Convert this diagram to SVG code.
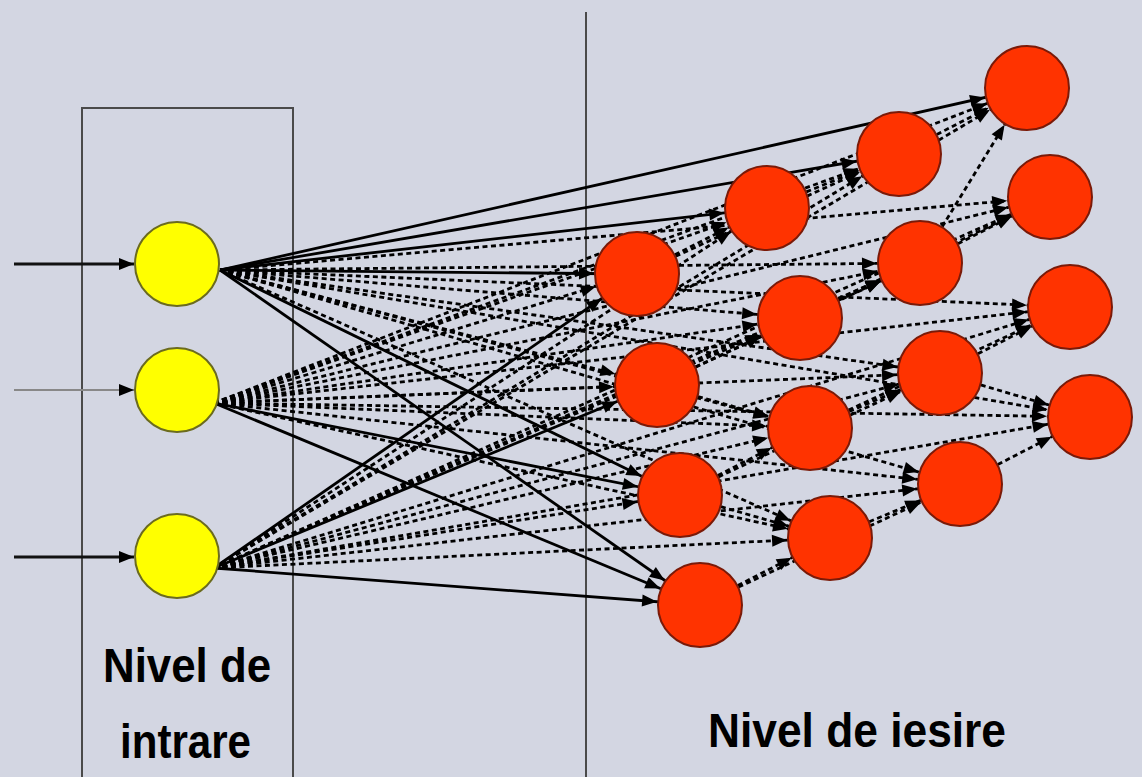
<svg xmlns="http://www.w3.org/2000/svg" width="1142" height="777" viewBox="0 0 1142 777">
<style>
.bg{fill:#d3d6e2}
.frame{fill:none;stroke:#4a4a4a;stroke-width:2}
.c line{stroke:#000;stroke-width:2.8;marker-end:url(#a)}
.c line.d{stroke-dasharray:5 3.5}
.in line{stroke-width:3;marker-end:url(#b)}
.y{fill:#ffff00;stroke:#6b6b1e;stroke-width:2}
.r{fill:#ff3300;stroke:#7a1a08;stroke-width:2}
.t{font-family:"Liberation Sans",Arial,sans-serif;font-weight:bold;font-size:48px;fill:#000}
</style>
<defs>
<marker id="a" markerUnits="userSpaceOnUse" markerWidth="15" markerHeight="12" viewBox="0 0 15 12" refX="58" refY="6" orient="auto" overflow="visible"><path d="M0,0 L15,6 L0,12 z" fill="#000"/></marker>
<marker id="b" markerUnits="userSpaceOnUse" markerWidth="15" markerHeight="12" viewBox="0 0 15 12" refX="15" refY="6" orient="auto" overflow="visible"><path d="M0,0 L15,6 L0,12 z" fill="#000"/></marker>
</defs>
<rect class="bg" x="0" y="0" width="1142" height="777"/>
<g id="frames">
<rect class="frame" x="82" y="108" width="211" height="700"/>
<line x1="586" y1="12" x2="586" y2="777" stroke="#4a4a4a" stroke-width="2"/>
</g>
<g class="in" id="inputs">
<line x1="14" y1="264" x2="134" y2="264" stroke="#111"/>
<line x1="14" y1="390" x2="134" y2="390" stroke="#888" style="stroke-width:2"/>
<line x1="14" y1="557" x2="134" y2="557" stroke="#111"/>
</g>
<g class="c" id="connectors">
<!-- Y1 -->
<line x1="220" y1="270" x2="1027" y2="88"/>
<line x1="220" y1="270" x2="899" y2="154"/>
<line x1="220" y1="270" x2="767" y2="208"/>
<line x1="220" y1="270" x2="637" y2="274"/>
<line x1="220" y1="270" x2="680" y2="495"/>
<line x1="220" y1="270" x2="700" y2="605"/>
<line class="d" x1="220" y1="270" x2="657" y2="385"/>
<line class="d" x1="220" y1="270" x2="800" y2="318"/>
<line class="d" x1="220" y1="270" x2="810" y2="428"/>
<line class="d" x1="220" y1="270" x2="830" y2="538"/>
<line class="d" x1="220" y1="270" x2="920" y2="263"/>
<line class="d" x1="220" y1="270" x2="940" y2="373"/>
<line class="d" x1="220" y1="270" x2="960" y2="484"/>
<line class="d" x1="220" y1="270" x2="1050" y2="197"/>
<line class="d" x1="220" y1="270" x2="1070" y2="307"/>
<line class="d" x1="220" y1="270" x2="1090" y2="417"/>
<!-- Y2 -->
<line x1="214" y1="403" x2="680" y2="495"/>
<line x1="214" y1="403" x2="700" y2="605"/>
<line class="d" x1="214" y1="403" x2="637" y2="274"/>
<line class="d" x1="214" y1="403" x2="657" y2="385"/>
<line class="d" x1="214" y1="403" x2="767" y2="208"/>
<line class="d" x1="214" y1="403" x2="800" y2="318"/>
<line class="d" x1="214" y1="403" x2="810" y2="428"/>
<line class="d" x1="214" y1="403" x2="830" y2="538"/>
<line class="d" x1="214" y1="403" x2="899" y2="154"/>
<line class="d" x1="214" y1="403" x2="920" y2="263"/>
<line class="d" x1="214" y1="403" x2="940" y2="373"/>
<line class="d" x1="214" y1="403" x2="960" y2="484"/>
<line class="d" x1="214" y1="403" x2="1027" y2="88"/>
<line class="d" x1="214" y1="403" x2="1050" y2="197"/>
<line class="d" x1="214" y1="403" x2="1070" y2="307"/>
<line class="d" x1="214" y1="403" x2="1090" y2="417"/>
<!-- Y3 -->
<line x1="214" y1="568" x2="637" y2="274"/>
<line x1="214" y1="568" x2="657" y2="385"/>
<line x1="214" y1="568" x2="700" y2="605"/>
<line class="d" x1="214" y1="568" x2="680" y2="495"/>
<line class="d" x1="214" y1="568" x2="767" y2="208"/>
<line class="d" x1="214" y1="568" x2="800" y2="318"/>
<line class="d" x1="214" y1="568" x2="810" y2="428"/>
<line class="d" x1="214" y1="568" x2="830" y2="538"/>
<line class="d" x1="214" y1="568" x2="899" y2="154"/>
<line class="d" x1="214" y1="568" x2="920" y2="263"/>
<line class="d" x1="214" y1="568" x2="940" y2="373"/>
<line class="d" x1="214" y1="568" x2="960" y2="484"/>
<line class="d" x1="214" y1="568" x2="1027" y2="88"/>
<line class="d" x1="214" y1="568" x2="1050" y2="197"/>
<line class="d" x1="214" y1="568" x2="1070" y2="307"/>
<line class="d" x1="214" y1="568" x2="1090" y2="417"/>
<!-- lateral -->
<line class="d" x1="637" y1="274" x2="767" y2="208"/>
<line class="d" x1="767" y1="208" x2="899" y2="154"/>
<line class="d" x1="899" y1="154" x2="1027" y2="88"/>
<line class="d" x1="920" y1="263" x2="1027" y2="88"/>
<line class="d" x1="657" y1="385" x2="800" y2="318"/>
<line class="d" x1="800" y1="318" x2="920" y2="263"/>
<line class="d" x1="920" y1="263" x2="1050" y2="197"/>
<line class="d" x1="800" y1="318" x2="1050" y2="197"/>
<line class="d" x1="680" y1="495" x2="810" y2="428"/>
<line class="d" x1="810" y1="428" x2="940" y2="373"/>
<line class="d" x1="940" y1="373" x2="1070" y2="307"/>
<line class="d" x1="700" y1="605" x2="830" y2="538"/>
<line class="d" x1="830" y1="538" x2="960" y2="484"/>
<line class="d" x1="960" y1="484" x2="1090" y2="417"/>
<line class="d" x1="940" y1="373" x2="1090" y2="417"/>
<line class="d" x1="637" y1="274" x2="899" y2="154"/>
<line class="d" x1="657" y1="385" x2="920" y2="263"/>
<line class="d" x1="680" y1="495" x2="940" y2="373"/>
<line class="d" x1="700" y1="605" x2="960" y2="484"/>
<line class="d" x1="810" y1="428" x2="1070" y2="307"/>
<line class="d" x1="680" y1="495" x2="830" y2="538"/>
<line class="d" x1="657" y1="385" x2="810" y2="428"/>
</g>
<g id="Y1"><circle class="y" cx="177" cy="264" r="42"/></g>
<g id="Y2"><circle class="y" cx="177" cy="390" r="42"/></g>
<g id="Y3"><circle class="y" cx="177" cy="556" r="42"/></g>
<g id="R11"><circle class="r" cx="637" cy="274" r="42"/></g>
<g id="R21"><circle class="r" cx="767" cy="208" r="42"/></g>
<g id="R31"><circle class="r" cx="899" cy="154" r="42"/></g>
<g id="R41"><circle class="r" cx="1027" cy="88" r="42"/></g>
<g id="R12"><circle class="r" cx="657" cy="385" r="42"/></g>
<g id="R22"><circle class="r" cx="800" cy="318" r="42"/></g>
<g id="R32"><circle class="r" cx="920" cy="263" r="42"/></g>
<g id="R42"><circle class="r" cx="1050" cy="197" r="42"/></g>
<g id="R13"><circle class="r" cx="680" cy="495" r="42"/></g>
<g id="R23"><circle class="r" cx="810" cy="428" r="42"/></g>
<g id="R33"><circle class="r" cx="940" cy="373" r="42"/></g>
<g id="R43"><circle class="r" cx="1070" cy="307" r="42"/></g>
<g id="R14"><circle class="r" cx="700" cy="605" r="42"/></g>
<g id="R24"><circle class="r" cx="830" cy="538" r="42"/></g>
<g id="R34"><circle class="r" cx="960" cy="484" r="42"/></g>
<g id="R44"><circle class="r" cx="1090" cy="417" r="42"/></g>
<g id="labels">
<text class="t" x="103" y="682" textLength="168" lengthAdjust="spacingAndGlyphs">Nivel de</text>
<text class="t" x="120" y="758" textLength="131" lengthAdjust="spacingAndGlyphs">intrare</text>
<text class="t" x="708" y="747" textLength="298" lengthAdjust="spacingAndGlyphs">Nivel de iesire</text>
</g>
</svg>
